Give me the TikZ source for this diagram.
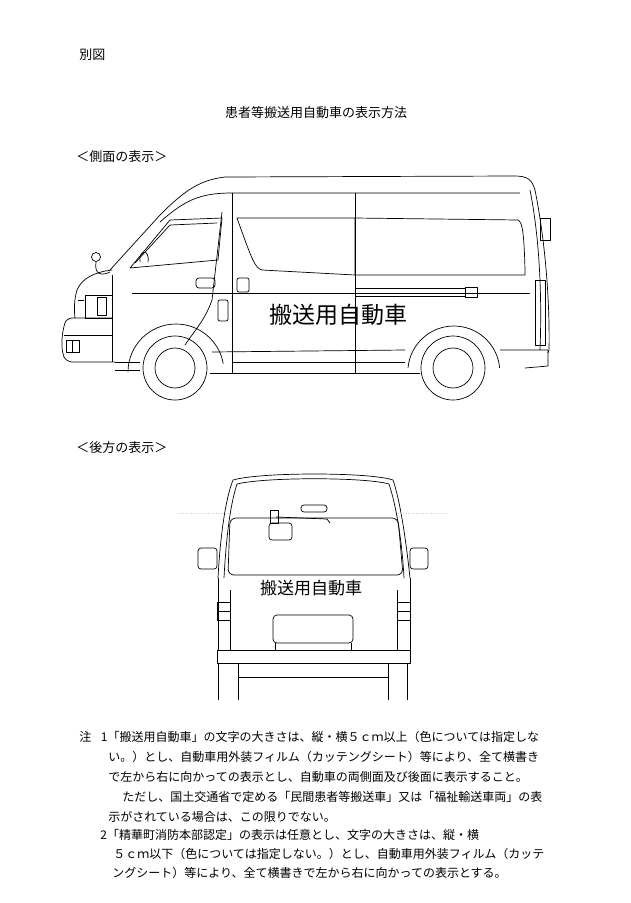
\documentclass[tikz,border=0pt]{standalone}
\usepackage{fontspec}
\newfontfamily\jp{Noto Sans CJK JP}
\begin{document}
\begin{tikzpicture}[x=1pt,y=-1pt,line width=0.7pt,line join=round,
  txt/.style={anchor=west,inner sep=0pt,font=\jp\fontsize{12}{12}\selectfont},
  hd/.style={anchor=west,inner sep=0pt,font=\jp\fontsize{13}{13}\selectfont},
  big/.style={inner sep=0pt,font=\jp\fontsize{#1}{#1}\selectfont},
  thin/.style={line width=0.5pt}]
\useasboundingbox[fill=white] (0,0) rectangle (630,903);
% headings
\node[hd] (bz) at (79,55) {別図};
\node[big=13] (title) at (316,113) {患者等搬送用自動車の表示方法};
\node[hd] (h1) at (76,157) {＜側面の表示＞};
\node[hd] (h2) at (76,448) {＜後方の表示＞};
% notes
\node[txt] (n1) at (79,737) {注\hspace{0.8em}1「搬送用自動車」の文字の大きさは、縦・横５ｃｍ以上（色については指定しな};
\node[txt] (n2) at (108,757) {い。）とし、自動車用外装フィルム（カッテングシート）等により、全て横書き};
\node[txt] (n3) at (108,777) {で左から右に向かっての表示とし、自動車の両側面及び後面に表示すること。};
\node[txt] (n4) at (122,797) {ただし、国土交通省で定める「民間患者等搬送車」又は「福祉輸送車両」の表};
\node[txt] (n5) at (108,817) {示がされている場合は、この限りでない。};
\node[txt] (n6) at (100,835) {2「精華町消防本部認定」の表示は任意とし、文字の大きさは、縦・横};
\node[txt] (n7) at (113,854) {５ｃｍ以下（色については指定しない。）とし、自動車用外装フィルム（カッテ};
\node[txt] (n8) at (112,873) {ングシート）等により、全て横書きで左から右に向かっての表示とする。};
% ===== side view =====
\draw (110,270) -- (160,215) .. controls (185,190) and (200,180) .. (225,177) -- (515,176)
  .. controls (528,176) and (532,180) .. (535,190) .. controls (545,240) and (550,300) .. (549,350) -- (548,353);
\draw (160,222) .. controls (185,200) and (200,193) .. (232,193) -- (520,193);
\draw (530,190) .. controls (540,240) and (542,300) .. (540,350);
\draw (540,218) rectangle (550,240);
\draw (535,280) rectangle (545,345);
% front face
\draw (112,270) .. controls (95,272) and (82,278) .. (77,290) .. controls (74,300) and (74,310) .. (75,318);
\draw[rounded corners=6] (112,318) -- (66,318) -- (62,335) -- (62,352) -- (66,362) -- (115,362);
\draw (64,335) -- (112,335);
\draw (66,340) rectangle (79,352);
\draw (72,340) -- (72,352);
\draw (85,295) rectangle (112,318);
\draw (97,297) rectangle (106,315);
\draw (112,275) -- (112,362);
\draw (96,257) circle (4.5);
\draw (96,262) .. controls (94,275) and (102,276) .. (110,272);
\draw (78,300) -- (84,300);
% A pillar / front door
\draw (130,268) -- (170,220) -- (222,218) -- (218,260) -- cycle;
\draw (135,263) -- (170,225) -- (217,223);
\draw (140,262) .. controls (138,250) and (150,248) .. (148,262);
\draw (222,212) -- (212,300) .. controls (205,320) and (195,330) .. (185,345);
\draw[rounded corners=3] (196,278) rectangle (215,288);
% pillars
\draw (232,193) -- (232,373);
\draw (355,193) -- (355,373);
% side windows
\draw (237,218) -- (355,218) -- (355,275) -- (262,270) .. controls (255,268) and (252,260) .. cycle;
\draw (355,218) -- (518,220) .. controls (522,222) and (524,230) .. (525,270) -- (525,275) -- (355,275);
% handles, fuel
\draw[rounded corners=2] (237,278) rectangle (249,292);
\draw[rounded corners=2] (218,300) rectangle (228,321);
% belt line and rail
\draw[thin] (132,293) -- (530,293);
\draw (355,288) -- (465,288) -- (465,296) -- (355,296);
\draw (465,287) rectangle (477,297);
% text
\node[big=23] (sidetxt) at (338,315) {搬送用自動車};
% lower body
\draw (212,352) -- (405,350);
\draw (232,362) -- (405,362);
\draw (500,350) -- (548,350) -- (548,366) -- (525,368);
\draw (115,362) -- (140,362) (115,370) -- (140,370);
\draw (210,373) -- (420,373);
% wheels
\draw (128,372) arc[start angle=180,end angle=350,radius=48];
\draw (408,368) arc[start angle=185,end angle=355,radius=46];
\draw (175,368) circle (32);
\draw (175,368) circle (20);
\draw (453,368) circle (32);
\draw (453,368) circle (20);
% ===== rear view =====
\draw (218,578) .. controls (220,540) and (225,500) .. (233,480)
  .. controls (260,472) and (370,472) .. (393,480)
  .. controls (400,500) and (406,540) .. (410,578);
\draw (224,578) .. controls (226,540) and (230,505) .. (237,484)
  .. controls (265,477) and (365,477) .. (389,484)
  .. controls (396,505) and (402,540) .. (404,578);
\draw (218,578) -- (218,650); \draw (410,578) -- (410,650);
\draw (230,590) -- (230,650); \draw (397,590) -- (397,650);
\draw (217,650) rectangle (410,663);
\draw (218,663) -- (218,700) (238,663) -- (238,700);
\draw (388,663) -- (388,700) (407,663) -- (407,700);
\draw (238,677) -- (388,677);
% rear window
\draw[rounded corners=6] (230,518) -- (398,518) -- (403,575) -- (228,575) -- cycle;
% mirrors
\draw[rounded corners=3] (198,548) rectangle (217,569);
\draw[rounded corners=3] (410,548) rectangle (428,569);
% plate
\draw[rounded corners=4] (273,615) rectangle (353,643);
\draw (275,643) -- (275,650) (351,643) -- (351,650);
% high-mount light, wiper
\draw[rounded corners=3] (301,505) rectangle (327,512);
\draw[rounded corners=3] (269,523) rectangle (292,540);
\draw (276,517) -- (327,519) -- (330,523);
\draw (270,510) rectangle (278,523);
% tail lights
\draw (217,602) rectangle (230,620); \draw (217,611) -- (230,611);
\draw (397,602) rectangle (410,620); \draw (397,611) -- (410,611);
% rear text
\node[big=17] (reartxt) at (311,588) {搬送用自動車};
% faint dotted line
\draw[gray!35,dotted,thin] (178,513) -- (230,513) (398,513) -- (448,513);
\end{tikzpicture}
\end{document}
